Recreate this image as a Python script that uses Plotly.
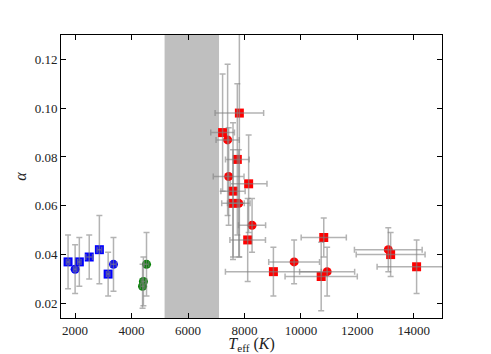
import plotly.graph_objects as go

# blue squares
bs_T = [1750, 2150, 2500, 2860, 3170]
bs_Terr = [60, 60, 120, 80, 60]
bs_a = [0.037, 0.037, 0.039, 0.042, 0.032]
bs_aerr = [0.011, 0.010, 0.009, 0.014, 0.009]

# blue circles
bc_T = [2000, 3360]
bc_Terr = [60, 100]
bc_a = [0.034, 0.036]
bc_aerr = [0.010, 0.011]

# green circles
gc_T = [4390, 4420, 4530]
gc_Terr = [80, 80, 80]
gc_a = [0.027, 0.029, 0.036]
gc_aerr = [0.009, 0.010, 0.013]

# red squares
rs_T = [7820, 7226, 7748, 7595, 7595, 8149, 8115, 9026, 10810, 10719, 13180, 14100]
rs_Terr = [860, 420, 420, 430, 400, 650, 630, 1700, 800, 1280, 1220, 1400]
rs_a = [0.098, 0.090, 0.079, 0.066, 0.061, 0.069, 0.046, 0.033, 0.047, 0.031, 0.040, 0.035]
rs_aerr = [0.059, 0.024, 0.031, 0.028, 0.022, 0.020, 0.017, 0.010, 0.008, 0.014, 0.009, 0.011]

# red circles
rc_T = [7404, 7440, 7800, 8270, 9760, 10930, 13097]
rc_Terr = [410, 545, 400, 480, 900, 975, 1200]
rc_a = [0.087, 0.072, 0.061, 0.052, 0.037, 0.033, 0.042]
rc_aerr = [0.031, 0.020, 0.022, 0.011, 0.009, 0.010, 0.009]

# forbidden band
band = [5170, 7100]

x_ticks = [2000, 4000, 6000, 8000, 10000, 12000, 14000]
y_ticks = [0.02, 0.04, 0.06, 0.08, 0.10, 0.12]

GROUPS = [
    (bs_T, bs_Terr, bs_a, bs_aerr, "#0000FF", "square"),
    (bc_T, bc_Terr, bc_a, bc_aerr, "#0000FF", "circle"),
    (gc_T, gc_Terr, gc_a, gc_aerr, "#008000", "circle"),
    (rs_T, rs_Terr, rs_a, rs_aerr, "#FF0000", "square"),
    (rc_T, rc_Terr, rc_a, rc_aerr, "#FF0000", "circle"),
]

ERR = "rgba(128,128,128,0.6)"
FONT = "Liberation Serif, DejaVu Serif, serif"

fig = go.Figure()

# markers first, error bars drawn over them (as in the original)
for T, Terr, a, aerr, col, sym in GROUPS:
    fig.add_trace(go.Scatter(
        x=T, y=a, mode="markers",
        marker=dict(color=col, symbol=sym, size=9, line=dict(width=0)),
        showlegend=False,
    ))
for T, Terr, a, aerr, col, sym in GROUPS:
    fig.add_trace(go.Scatter(
        x=T, y=a, mode="markers",
        marker=dict(opacity=0, size=1),
        error_x=dict(type="data", array=Terr, color=ERR, thickness=1.5, width=3),
        error_y=dict(type="data", array=aerr, color=ERR, thickness=1.5, width=3),
        showlegend=False, hoverinfo="skip",
    ))

fig.add_shape(type="rect", xref="x", yref="paper", x0=band[0], x1=band[1], y0=0, y1=1,
              fillcolor="#BFBFBF", line=dict(width=0), layer="below")

axis = dict(showgrid=False, zeroline=False, showline=True, linecolor="black", linewidth=1,
            mirror="ticks", ticks="inside", ticklen=5, tickcolor="black", automargin=False,
            tickfont=dict(family=FONT, size=13, color="#222"))

fig.update_layout(
    width=491, height=354,
    margin=dict(l=61, r=49, t=35, b=36),
    paper_bgcolor="white", plot_bgcolor="white",
    font=dict(family=FONT, size=13, color="#222"),
    xaxis=dict(axis, range=[1500, 15000], tickvals=x_ticks,
               ticktext=[str(v) for v in x_ticks],
               title=dict(text="<i>T</i><sub>eff</sub> (<i>K</i>)", standoff=3)),
    yaxis=dict(axis, range=[0.014, 0.13], tickvals=y_ticks,
               tickformat=".2f",
               title=dict(text="<i>α</i>", standoff=4)),
)

# drop the browser's default page margin so the figure sits at the window corner
fig.write_html("out.html", config={"displayModeBar": False},
               post_script="document.body.style.margin='0';")
